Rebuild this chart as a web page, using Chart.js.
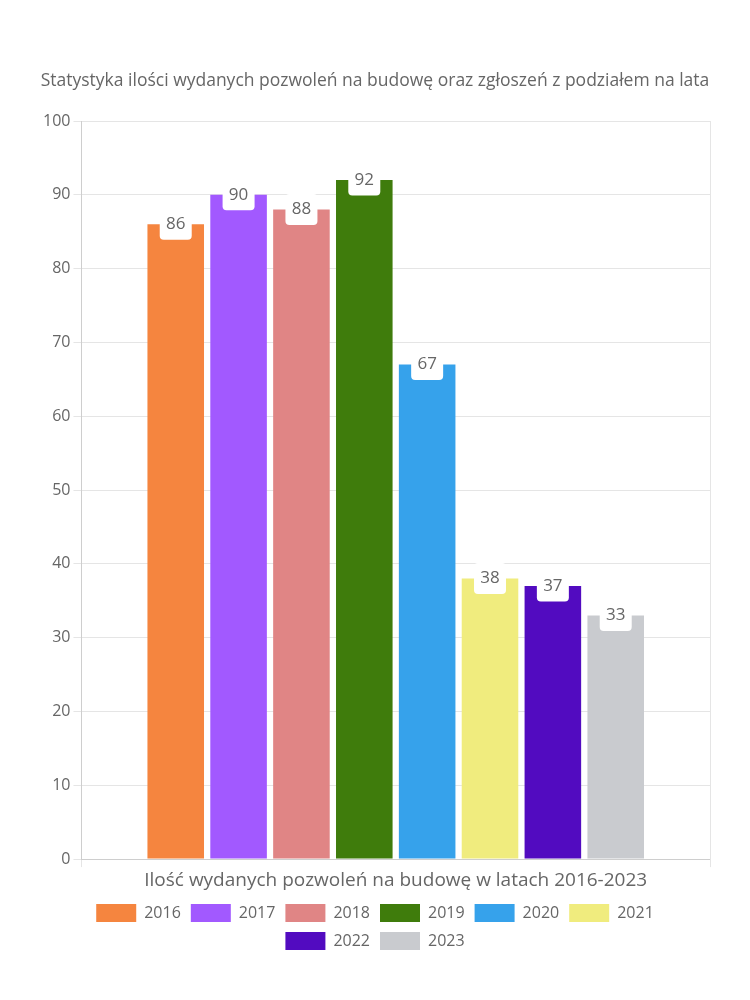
<!DOCTYPE html>
<html>
<head>
<meta charset="utf-8">
<script src="https://cdn.jsdelivr.net/npm/chart.js@4"></script>
<style>
  body { margin: 0; background: #fff; }
  #wrap { width: 750px; height: 1000px; }
</style>
</head>
<body>
<div id="wrap"><canvas id="permitChart"></canvas></div>
<script>
const categories = ["Ilość wydanych pozwoleń na budowę w latach 2016-2023"];
const years = ["2016", "2017", "2018", "2019", "2020", "2021", "2022", "2023"];
const permits = [86, 90, 88, 92, 67, 38, 37, 33];
const yearColors = ["#f5853f", "#a259ff", "#e08585", "#3f7c0c", "#36a2eb", "#f0ec7e", "#520bc0", "#c9cbcf"];

// white rounded label sitting on the top edge of each bar
const valueBoxes = {
  id: "valueBoxes",
  afterDatasetsDraw(chart) {
    const ctx = chart.ctx;
    ctx.save();
    ctx.font = "17px 'Open Sans'";
    ctx.textAlign = "center";
    ctx.textBaseline = "middle";
    chart.data.datasets.forEach((ds, i) => {
      const bar = chart.getDatasetMeta(i).data[0];
      const w = 32, h = 31;
      ctx.fillStyle = "#fff";
      ctx.beginPath();
      ctx.roundRect(bar.x - w / 2, bar.y - h / 2, w, h, 4);
      ctx.fill();
      ctx.fillStyle = "#666";
      ctx.fillText(ds.data[0], bar.x, bar.y);
    });
    ctx.restore();
  }
};

Chart.defaults.color = "#666";
Chart.defaults.font.family = "'Open Sans'";
Chart.defaults.font.size = 16;

new Chart(document.getElementById("permitChart"), {
  type: "bar",
  data: {
    labels: categories,
    datasets: years.map((y, i) => ({
      label: y,
      data: [permits[i]],
      backgroundColor: yearColors[i]
    }))
  },
  options: {
    responsive: true,
    maintainAspectRatio: false,
    animation: false,
    layout: { padding: { top: 61, left: 40, right: 40, bottom: 40 } },
    plugins: {
      title: {
        display: true,
        text: "Statystyka ilości wydanych pozwoleń na budowę oraz zgłoszeń z podziałem na lata",
        font: { size: 17.5, weight: "normal" },
        padding: { top: 10, bottom: 29 }
      },
      legend: {
        position: "bottom",
        labels: { boxWidth: 40, boxHeight: 18, font: { size: 16 } }
      },
      tooltip: { enabled: false }
    },
    scales: {
      x: { ticks: { font: { size: 19, lineHeight: 1.1 } } },
      y: { min: 0, max: 100, ticks: { stepSize: 10 } }
    }
  },
  plugins: [valueBoxes]
});
</script>
</body>
</html>
